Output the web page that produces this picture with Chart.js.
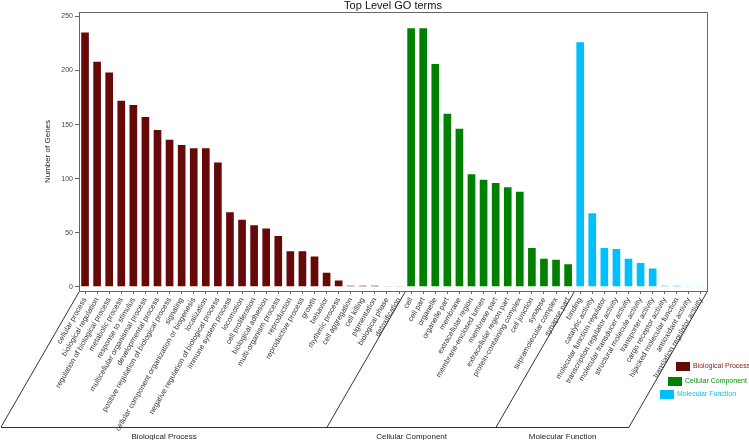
<!DOCTYPE html>
<html>
<head>
<meta charset="utf-8">
<title>Top Level GO terms</title>
<script src="https://cdn.jsdelivr.net/npm/chart.js@4.4.0/dist/chart.umd.min.js"></script>
<style>
  html, body { margin: 0; padding: 0; background: #fff; }
  #wrap { width: 749px; height: 440px; }
</style>
</head>
<body>
<div id="wrap"><canvas id="chart" width="749" height="440"></canvas></div>
<script>
// ============ Data ============
const bpTerms = [
  'cellular process', 'biological regulation', 'regulation of biological process',
  'metabolic process', 'response to stimulus', 'multicellular organismal process',
  'developmental process', 'positive regulation of biological process', 'signaling',
  'cellular component organization or biogenesis', 'localization',
  'negative regulation of biological process', 'immune system process', 'locomotion',
  'cell proliferation', 'biological adhesion', 'multi-organism process', 'reproduction',
  'reproductive process', 'growth', 'behavior', 'rhythmic process', 'cell aggregation',
  'cell killing', 'pigmentation', 'biological phase', 'detoxification'
];
const bpCounts = [236, 209, 199, 173, 169, 158, 146, 137, 132, 129, 129, 116, 70, 63, 58, 55, 48, 34, 34, 29, 14, 7, 2, 2, 2, 1, 1];

const ccTerms = [
  'cell', 'cell part', 'organelle', 'organelle part', 'membrane', 'extracellular region',
  'membrane-enclosed lumen', 'membrane part', 'extracellular region part',
  'protein-containing complex', 'cell junction', 'synapse', 'supramolecular complex', 'synapse part'
];
const ccCounts = [240, 240, 207, 161, 147, 105, 100, 97, 93, 89, 37, 27, 26, 22];

const mfTerms = [
  'binding', 'catalytic activity', 'molecular function regulator',
  'transcription regulator activity', 'molecular transducer activity',
  'structural molecule activity', 'transporter activity', 'cargo receptor activity',
  'hijacked molecular function', 'antioxidant activity', 'translation regulator activity'
];
const mfCounts = [227, 69, 37, 36, 27, 23, 18, 2, 2, 1, 1];

const groupNames = ['Biological Process', 'Cellular Component', 'Molecular Function'];
const yTicks = [0, 50, 100, 150, 200, 250];

// ============ Styles ============
const FONT = '"Liberation Sans", Arial, sans-serif';
const GROUP_COLORS = ['#650909', '#008000', '#00bfff'];
const GROUP_TEXT = ['#7a1a1a', '#108a10', '#10b8f0'];
const AXIS_COLOR = '#666';

const groups = [bpTerms, ccTerms, mfTerms];
const labels = [].concat(bpTerms, ccTerms, mfTerms);
const values = [].concat(bpCounts, ccCounts, mfCounts);
const barColors = [];
groups.forEach((g, gi) => g.forEach(() => barColors.push(GROUP_COLORS[gi])));

// ============ Overlay: title, frame, brackets, legend ============
const overlayPlugin = {
  id: 'overlay',
  afterDraw(chart) {
    const { ctx, chartArea: area, scales } = chart;
    const x = scales.x;
    ctx.save();

    // title
    ctx.fillStyle = '#111';
    ctx.font = `11px ${FONT}`;
    ctx.textAlign = 'center';
    ctx.textBaseline = 'middle';
    ctx.fillText('Top Level GO terms', (area.left + area.right) / 2, 6);

    // y title
    ctx.save();
    ctx.translate(48, (area.top + area.bottom) / 2);
    ctx.rotate(-Math.PI / 2);
    ctx.font = `8px ${FONT}`;
    ctx.fillStyle = '#222';
    ctx.fillText('Number of Genes', 0, 0);
    ctx.restore();

    // frame top + right
    ctx.strokeStyle = AXIS_COLOR;
    ctx.lineWidth = 1;
    ctx.beginPath();
    ctx.moveTo(area.left, area.top + 0.5);
    ctx.lineTo(area.right + 0.5, area.top + 0.5);
    ctx.lineTo(area.right + 0.5, area.bottom);
    ctx.stroke();

    // group brackets (slanted at 60 degrees like the labels)
    const yTop = area.bottom + 1;
    const yBot = 427;
    const dx = (yBot - yTop) / Math.tan(Math.PI / 3);
    const bounds = [area.left];
    let idx = 0;
    groups.forEach(g => {
      idx += g.length;
      if (idx >= labels.length) bounds.push(area.right);
      else bounds.push((x.getPixelForValue(idx - 1) + x.getPixelForValue(idx)) / 2);
    });
    ctx.strokeStyle = '#333';
    ctx.beginPath();
    bounds.forEach(b => {
      ctx.moveTo(b, yTop);
      ctx.lineTo(b - dx, yBot);
    });
    ctx.moveTo(bounds[0] - dx, yBot + 0.5);
    ctx.lineTo(bounds[bounds.length - 1] - dx, yBot + 0.5);
    ctx.stroke();

    ctx.fillStyle = '#222';
    ctx.font = `8px ${FONT}`;
    groupNames.forEach((name, i) => {
      const cx = (bounds[i] + bounds[i + 1]) / 2 - dx;
      ctx.fillText(name, cx, 437);
    });

    // legend
    const legend = [
      { box: [676, 362], text: 693 },
      { box: [668, 377], text: 685 },
      { box: [660, 390], text: 677 },
    ];
    ctx.font = `7px ${FONT}`;
    ctx.textAlign = 'left';
    legend.forEach((l, i) => {
      ctx.fillStyle = GROUP_COLORS[i];
      ctx.fillRect(l.box[0], l.box[1], 14, 9);
      ctx.fillStyle = GROUP_TEXT[i];
      ctx.fillText(groupNames[i], l.text, l.box[1] + 4.5);
    });

    ctx.restore();
  }
};

// ============ Chart ============
new Chart(document.getElementById('chart').getContext('2d'), {
  type: 'bar',
  data: {
    labels,
    datasets: [{
      data: values,
      backgroundColor: barColors,
      borderColor: 'rgba(255,255,255,0.5)',
      borderWidth: 1,
      barPercentage: 0.8,
      categoryPercentage: 1,
    }],
  },
  options: {
    responsive: false,
    animation: false,
    layout: { padding: { top: 12, right: 42, left: 0, bottom: 0 } },
    plugins: {
      legend: { display: false },
      title: { display: false },
      tooltip: { enabled: false },
    },
    scales: {
      x: {
        offset: true,
        grid: { display: true, drawOnChartArea: false, offset: false, tickLength: 3, color: AXIS_COLOR },
        border: { color: AXIS_COLOR },
        ticks: {
          autoSkip: false,
          minRotation: 60,
          maxRotation: 60,
          padding: 2,
          color: '#333',
          font: { family: FONT, size: 7.5 },
        },
        afterFit(scale) { scale.height = 149; },
      },
      y: {
        min: -3.7,
        max: 254,
        grid: { display: true, drawOnChartArea: false, tickLength: 4, color: AXIS_COLOR },
        border: { color: AXIS_COLOR },
        ticks: {
          padding: 2,
          color: '#444',
          font: { family: FONT, size: 7 },
        },
        afterBuildTicks(scale) { scale.ticks = yTicks.map(v => ({ value: v })); },
        afterFit(scale) { scale.width = 79; },
      },
    },
  },
  plugins: [overlayPlugin],
});
</script>
</body>
</html>
